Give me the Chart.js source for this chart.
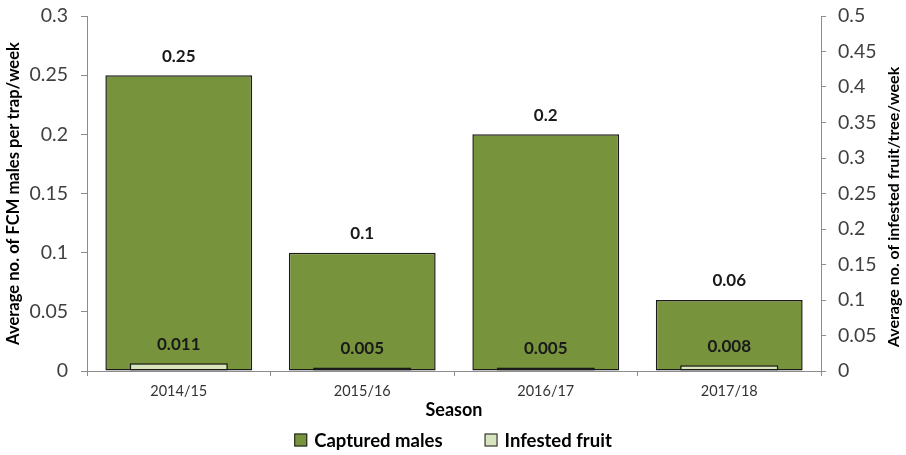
<!DOCTYPE html>
<html>
<head>
<meta charset="utf-8">
<script src="https://cdn.jsdelivr.net/npm/chart.js@4"></script>
<style>
    html, body { margin: 0; padding: 0; background: #ffffff; }
    #wrap { width: 906px; height: 455px; }
</style>
</head>
<body>
<div id="wrap"><canvas id="fcm-chart" width="906" height="455"></canvas></div>
<script>
// Seasons and averages
const seasons = ['2014/15', '2015/16', '2016/17', '2017/18'];
const capturedMales = [0.25, 0.1, 0.2, 0.06];      // left axis
const infestedFruit = [0.011, 0.005, 0.005, 0.008]; // right axis
const leftTicks = [0, 0.05, 0.1, 0.15, 0.2, 0.25, 0.3];
const rightTicks = [0, 0.05, 0.1, 0.15, 0.2, 0.25, 0.3, 0.35, 0.4, 0.45, 0.5];

const FONT = 'Lato, "Open Sans", sans-serif';
const GREEN = '#77933c';
const LIGHT = '#d7e4bd';
const EDGE = '#1a1a1a';
const AXIS = '#8c8c8c';

function fmtTick(v) {
    return String(+v.toFixed(2));
}

// value labels above each bar
const barLabels = {
    id: 'barLabels',
    afterDatasetsDraw(chart) {
        const ctx = chart.ctx;
        ctx.save();
        ctx.font = `bold 17px ${FONT}`;
        ctx.fillStyle = '#1a1a1a';
        ctx.textAlign = 'center';
        ctx.textBaseline = 'middle';
        chart.data.datasets.forEach((ds, i) => {
            chart.getDatasetMeta(i).data.forEach((bar, j) => {
                ctx.fillText(String(ds.data[j]), bar.x, bar.y - 19);
            });
        });
        ctx.restore();
    }
};

// right axis title reads bottom-to-top like the left one
const rightTitle = {
    id: 'rightTitle',
    afterDraw(chart) {
        const ctx = chart.ctx;
        ctx.save();
        ctx.translate(894, 207);
        ctx.rotate(-Math.PI / 2);
        ctx.font = `bold 16px ${FONT}`;
        ctx.fillStyle = '#000000';
        ctx.textAlign = 'center';
        ctx.textBaseline = 'middle';
        ctx.fillText('Average no. of infested fruit/tree/week', 0, 0);
        ctx.restore();
    }
};

// legend row under the axis title
const bottomLegend = {
    id: 'bottomLegend',
    afterDraw(chart) {
        const ctx = chart.ctx;
        const box = 13, gap = 7, spacing = 42, y = 440;
        ctx.save();
        ctx.font = `bold 18.5px ${FONT}`;
        ctx.textBaseline = 'middle';
        const items = chart.data.datasets.map(ds => ({
            text: ds.label,
            fill: ds.backgroundColor,
            w: box + gap + ctx.measureText(ds.label).width
        }));
        const total = items.reduce((s, it) => s + it.w, 0) + spacing * (items.length - 1);
        let x = (chart.width - total) / 2;
        items.forEach(it => {
            ctx.fillStyle = it.fill;
            ctx.fillRect(x, y - box / 2, box, box);
            ctx.strokeStyle = EDGE;
            ctx.lineWidth = 1;
            ctx.strokeRect(x + 0.5, y - box / 2 + 0.5, box - 1, box - 1);
            ctx.fillStyle = '#000000';
            ctx.fillText(it.text, x + box + gap, y + 1);
            x += it.w + spacing;
        });
        ctx.restore();
    }
};

new Chart(document.getElementById('fcm-chart'), {
    type: 'bar',
    data: {
        labels: seasons,
        datasets: [
            {
                label: 'Captured males',
                data: capturedMales,
                yAxisID: 'y',
                backgroundColor: GREEN,
                borderColor: EDGE,
                borderWidth: 1.5,
                borderSkipped: false,
                grouped: false,
                categoryPercentage: 1,
                barPercentage: 0.8,
                order: 2
            },
            {
                label: 'Infested fruit',
                data: infestedFruit,
                yAxisID: 'y1',
                backgroundColor: LIGHT,
                borderColor: EDGE,
                borderWidth: 1.5,
                borderSkipped: false,
                grouped: false,
                categoryPercentage: 1,
                barPercentage: 0.535,
                order: 1
            }
        ]
    },
    options: {
        responsive: false,
        animation: false,
        layout: { padding: { top: 16, bottom: 30, left: 0, right: 0 } },
        plugins: {
            legend: { display: false },
            tooltip: { enabled: false }
        },
        scales: {
            x: {
                grid: { drawOnChartArea: false, tickLength: 5, color: AXIS },
                border: { color: AXIS },
                ticks: { color: '#333333', padding: 7, font: { family: FONT, size: 14.5 } },
                title: {
                    display: true,
                    text: 'Season',
                    color: '#000000',
                    font: { family: FONT, size: 18, weight: 'bold' },
                    padding: { top: 0, bottom: 4 }
                },
                afterFit(scale) { scale.height = 54; }
            },
            y: {
                position: 'left',
                min: 0,
                max: 0.3,
                afterBuildTicks(scale) { scale.ticks = leftTicks.map(v => ({ value: v })); },
                grid: { drawOnChartArea: false, tickLength: 6, color: AXIS },
                border: { color: AXIS },
                ticks: {
                    color: '#404040',
                    padding: 13,
                    font: { family: FONT, size: 19.5 },
                    callback: v => fmtTick(v)
                },
                title: {
                    display: true,
                    text: 'Average no. of FCM males per trap/week',
                    color: '#000000',
                    font: { family: FONT, size: 16.6, weight: 'bold' },
                    padding: { top: 4, bottom: 0 }
                },
                afterFit(scale) {
                    scale.width = 87;
                    scale.paddingTop = 0;
                    scale.paddingBottom = 0;
                }
            },
            y1: {
                position: 'right',
                min: 0,
                max: 0.5,
                afterBuildTicks(scale) { scale.ticks = rightTicks.map(v => ({ value: v })); },
                grid: { drawOnChartArea: false, tickLength: 5, color: AXIS },
                border: { color: AXIS },
                ticks: {
                    color: '#404040',
                    padding: 12,
                    font: { family: FONT, size: 19.5 },
                    callback: v => fmtTick(v)
                },
                afterFit(scale) {
                    scale.width = 85;
                    scale.paddingTop = 0;
                    scale.paddingBottom = 0;
                }
            }
        }
    },
    plugins: [barLabels, rightTitle, bottomLegend]
});
</script>
</body>
</html>
